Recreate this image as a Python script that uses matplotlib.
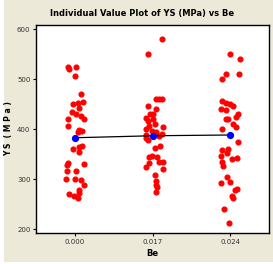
import numpy as np
import matplotlib
matplotlib.use("Agg")
import matplotlib.pyplot as plt
from matplotlib.patches import Rectangle

# Be levels shown on the x axis
be_levels = ["0.000", "0.017", "0.024"]

# YS values, one list per Be level
ys_0000 = [525, 520, 525, 506, 470, 450, 453, 454, 442, 434, 430, 426, 420, 420,
           406, 395, 396, 399, 361, 364, 366, 355, 332, 328, 330, 316, 316, 301,
           301, 299, 289, 279, 271, 267, 263, 272]
ys_0017 = [580, 550, 460, 460, 460, 446, 440, 431, 431, 423, 420, 417, 411, 407,
           405, 401, 396, 394, 391, 383, 387, 379, 389, 363, 366, 344, 346, 345,
           325, 332, 334, 335, 320, 309, 297, 289, 285, 275]
ys_0024 = [550, 541, 510, 510, 500, 456, 452, 451, 446, 441, 438, 430, 424, 420,
           420, 410, 405, 400, 375, 358, 353, 347, 340, 342, 335, 326, 305, 293,
           295, 279, 281, 266, 263, 241, 212, 361]

# horizontal jitter of each point (fraction of category spacing)
jit_0000 = [-.09, -.08, .01, 0, .08, -.03, .04, .10, .05, -.04, .01, .08, .12, -.09,
            -.09, .04, .09, .06, -.03, .06, .09, .05, -.09, -.10, .12, -.10, .01, -.12,
            0, .08, .12, .05, -.08, -.01, .04, .06]
jit_0017 = [.12, -.06, .04, .08, .12, -.06, .05, -.03, 0, -.09, 0, -.06, .03, -.05,
            .13, -.09, -.01, .04, .12, -.09, .09, -.06, -.09, .03, .10, -.05, -.01, .06,
            -.08, -.04, .09, .13, .13, .03, .05, .04, .06, .04]
jit_0024 = [0, .13, -.05, .12, -.10, -.10, -.05, 0, .04, -.12, -.06, .10, .08, -.06,
            -.03, .04, .08, -.10, .10, -.10, -.04, -.12, .03, .09, -.10, -.09, -.04, -.12,
            0, .06, .09, .03, .04, -.08, -.01, -.03]

# group means (blue symbols)
means = [382.5, 386.5, 388]

groups = [ys_0000, ys_0017, ys_0024]
jitters = [jit_0000, jit_0017, jit_0024]

narrow = ["Liberation Sans Narrow", "DejaVu Sans"]

fig = plt.figure(figsize=(2.73, 2.64), dpi=100)
fig.patch.set_facecolor("white")
fig.patches.append(Rectangle((4 / 273, 2 / 264), 269 / 273, 262 / 264,
                             transform=fig.transFigure, facecolor="#ECE9D8",
                             edgecolor="none", zorder=-10))

ax = fig.add_axes([36 / 273, 31 / 264, 233 / 273, 208 / 264])
ax.set_facecolor("white")

for i, (vals, jit) in enumerate(zip(groups, jitters)):
    xs = i + 1 + np.array(jit)
    ax.plot(xs, vals, "o", color="red", ms=3.4, mec="red", zorder=3)

pos = np.arange(1, len(means) + 1)
ax.plot(pos, means, "-", color="black", lw=0.9, zorder=4)
ax.plot(pos, means, "o", color="blue", ms=4.2, mec="blue", zorder=5)

ax.set_xlim(0.5, 3.5)
ax.set_ylim(192, 608)
ax.set_xticks(pos)
ax.set_xticklabels(be_levels, family=narrow, fontsize=5)
ax.set_yticks([200, 300, 400, 500, 600])
ax.set_yticklabels(["200", "300", "400", "500", "600"], family=narrow, fontsize=5)
ax.tick_params(length=2.5, width=0.8, pad=1.5, colors="black", labelcolor="#333333")

for s in ax.spines.values():
    s.set_linewidth(1.0)
    s.set_color("black")

ax.set_xlabel("Be", family=narrow, fontweight="bold", fontsize=6, labelpad=3)
ax.set_ylabel("Y S  ( M P a )", family=narrow, fontweight="bold", fontsize=5.5, labelpad=3)
fig.text(0.52, 0.95, "Individual Value Plot of YS (MPa) vs Be", family=narrow,
         fontweight="bold", fontsize=6, ha="center", va="center")

fig.savefig("out.png", dpi=100, facecolor=fig.get_facecolor())
